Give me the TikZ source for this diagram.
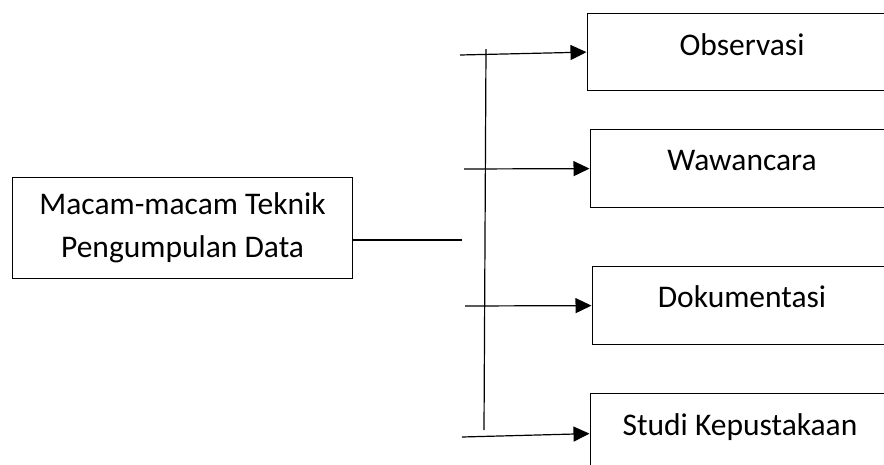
\documentclass[tikz,border=0pt]{standalone}
\usepackage{fontspec}
\setmainfont{Carlito}
\usetikzlibrary{arrows.meta}
\begin{document}
\begin{tikzpicture}[x=1pt,y=-1pt,
  every node/.style={font=\fontsize{31.5}{43}\selectfont},
  box/.style={draw=black,line width=1.2pt,rectangle,inner sep=0pt},
  rbox/.style={box,anchor=north west,minimum width=310pt},
  lbl/.style={anchor=base,inner sep=0pt},
  ln/.style={draw=black,line width=1.2pt},
  arr/.style={ln,-{Triangle[length=16pt,width=15pt]},shorten >=0.5pt}]
\useasboundingbox (0,0) rectangle (884,464);
\clip (0,0) rectangle (884,464);
% left box
\node[box,minimum width=340pt,minimum height=101pt,align=center,anchor=north west] (L) at (12,177) {Macam-macam Teknik\\Pengumpulan Data};
% right boxes
\node[rbox,minimum height=77pt] (o) at (587,13) {};
\node[rbox,minimum height=78pt] (w) at (590,129) {};
\node[rbox,minimum height=78pt] (d) at (592,266) {};
\node[rbox,minimum height=80pt] (s) at (590,393) {};
\node[lbl] (ot) at (742,55) {Observasi};
\node[lbl] (wt) at (742,170) {Wawancara};
\node[lbl] (dt) at (742,307) {Dokumentasi};
\node[lbl] (st) at (740,435) {Studi Kepustakaan};
% connectors
\coordinate (j) at (462,240);
\coordinate (v1) at (486,49);
\coordinate (v2) at (484,430);
\coordinate (a1) at (460,55);
\coordinate (a2) at (464,169);
\coordinate (a3) at (465,306);
\coordinate (a4) at (462,437);
\draw[ln] (L.east |- j) -- (j);
\draw[ln] (v1) -- (v2);
\draw[arr] (a1) -- (o.west);
\draw[arr] (a2) -- (w.west);
\draw[arr] (a3) -- (d.west);
\draw[arr] (a4) -- (s.west);
\end{tikzpicture}
\end{document}
